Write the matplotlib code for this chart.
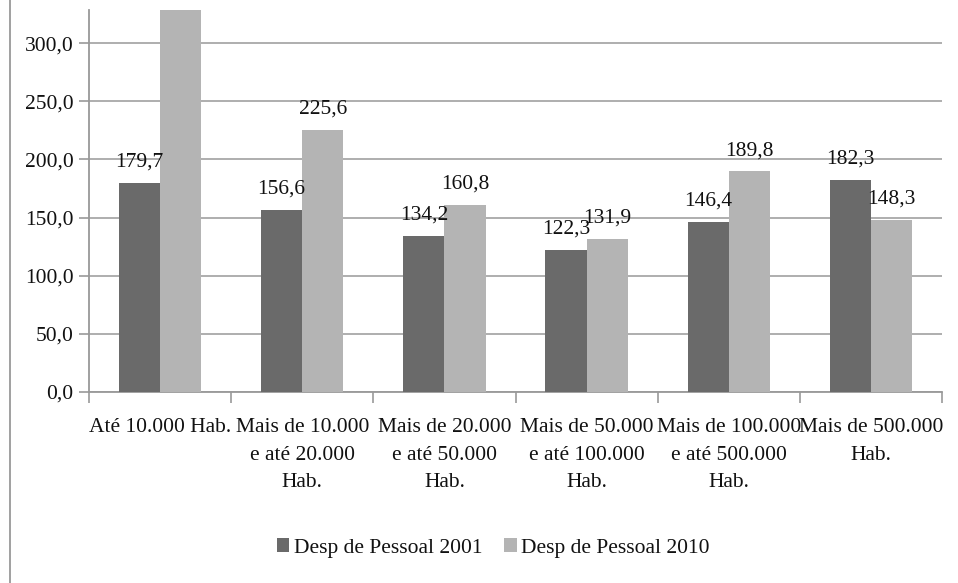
import matplotlib
matplotlib.use("Agg")
import matplotlib.pyplot as plt
import numpy as np
from matplotlib.lines import Line2D

categories = ["Até 10.000 Hab.", "Mais de 10.000\ne até 20.000\nHab.",
              "Mais de 20.000\ne até 50.000\nHab.", "Mais de 50.000\ne até 100.000\nHab.",
              "Mais de 100.000\ne até 500.000\nHab.", "Mais de 500.000\nHab."]
desp_2001 = [179.7, 156.6, 134.2, 122.3, 146.4, 182.3]
desp_2010 = [340.0, 225.6, 160.8, 131.9, 189.8, 148.3]
series_names = ["Desp de Pessoal 2001", "Desp de Pessoal 2010"]
yticks = [0, 50, 100, 150, 200, 250, 300]

plt.rcParams['font.family'] = ['Liberation Serif', 'DejaVu Serif']

fig = plt.figure(figsize=(9.58, 5.83), dpi=100)
ax = fig.add_axes([89/958, 191/583, (942-89)/958, (392-10)/583])

x = np.arange(len(categories))
w = 0.29
c1, c2 = "#6a6a6a", "#b4b4b4"
b1 = ax.bar(x - w/2, desp_2001, w, color=c1, label=series_names[0], zorder=3)
b2 = ax.bar(x + w/2, desp_2010, w, color=c2, label=series_names[1], zorder=3)

for bars, vals in ((b1, desp_2001), (b2, desp_2010)):
    for r, v in zip(bars, vals):
        ax.annotate(f"{v:.1f}".replace(".", ","), (r.get_x() + r.get_width()/2, v),
                    xytext=(0, 8), textcoords="offset points", ha="center", va="bottom",
                    fontsize=15.5, color="#111111", zorder=4)

ax.set_xlim(-0.5, len(categories) - 0.5)
ax.set_ylim(0, 328.5)
ax.set_yticks(yticks)
ax.set_yticklabels([f"{t:.1f}".replace(".", ",") for t in yticks], fontsize=15.5, color="#111111")
ax.set_xticks(x)
ax.set_xticklabels(categories, fontsize=15.5, color="#111111", linespacing=1.6)
ax.set_xticks(np.arange(len(categories) + 1) - 0.5, minor=True)
ax.tick_params(axis="x", which="major", length=0, pad=19)
ax.tick_params(axis="x", which="minor", length=8, color="#999999", width=1.2)
ax.tick_params(axis="y", length=7, color="#999999", width=1.2, pad=4)

ax.yaxis.grid(True, color="#a8a8a8", linewidth=1.3, zorder=0)
ax.set_axisbelow(True)
for s in ["top", "right"]:
    ax.spines[s].set_visible(False)
for s in ["left", "bottom"]:
    ax.spines[s].set_color("#999999")
    ax.spines[s].set_linewidth(1.3)

fig.add_artist(Line2D([10/958, 10/958], [0, 1], color="#999999", linewidth=1.3))

leg = fig.legend(handles=[b1, b2], loc="center", bbox_to_anchor=(493/958, 1 - 548/583),
                 ncol=2, frameon=False, fontsize=15.5, handlelength=0.6, handleheight=0.6,
                 handletextpad=0.2, columnspacing=1.0)
for t in leg.get_texts():
    t.set_color("#111111")

fig.savefig("out.png", dpi=100)
